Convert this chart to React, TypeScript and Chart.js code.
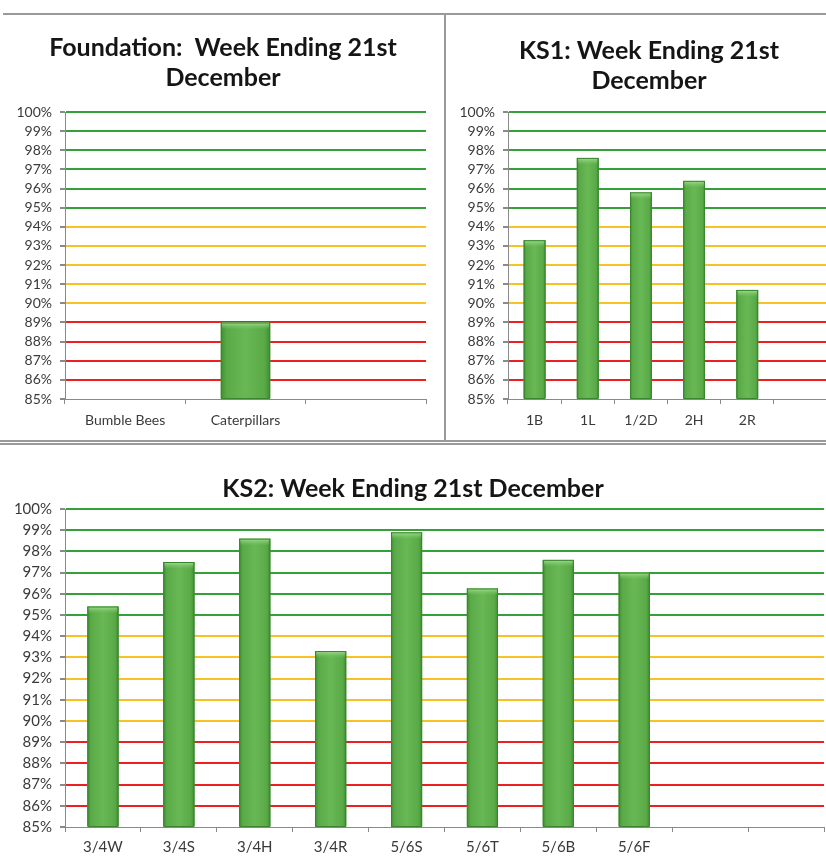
import React, { useEffect, useRef } from "react";
import { Chart, registerables } from "chart.js";

Chart.register(...registerables);

// ---------- data ----------
const foundationTitle = ["Foundation:  Week Ending 21st", "December"];
const foundationLabels = ["Bumble Bees", "Caterpillars", ""];
const foundationValues: (number | null)[] = [null, 89.0, null];

const ks1Title = ["KS1: Week Ending 21st", "December"];
const ks1Labels = ["1B", "1L", "1/2D", "2H", "2R", ""];
const ks1Values: (number | null)[] = [93.3, 97.6, 95.8, 96.4, 90.7, null];

const ks2Title = "KS2: Week Ending 21st December";
const ks2Labels = ["3/4W", "3/4S", "3/4H", "3/4R", "5/6S", "5/6T", "5/6B", "5/6F", "", ""];
const ks2Values: (number | null)[] = [95.4, 97.5, 98.6, 93.3, 98.9, 96.25, 97.6, 97.0, null, null];

const yMin = 85;
const yMax = 100;
const yStep = 1;
const greenFrom = 95;
const yellowFrom = 90;

// ---------- styles ----------
const GREEN = "#35a03a";
const YELLOW = "#f7c223";
const RED = "#ec2020";
const AXIS = "#8a8a8a";
const TEXT = "#3a3a3a";

function gridColor(v: number) {
  if (v <= yMin) return "rgba(0,0,0,0)";
  if (v >= greenFrom) return GREEN;
  if (v >= yellowFrom) return YELLOW;
  return RED;
}

const bevelPlugin = {
  id: "bevel",
  afterDatasetsDraw(chart: any) {
    const ctx = chart.ctx as CanvasRenderingContext2D;
    const area = chart.chartArea;
    const meta = chart.getDatasetMeta(0);
    ctx.save();
    ctx.beginPath();
    ctx.rect(area.left, area.top, area.right - area.left, area.bottom - area.top);
    ctx.clip();
    meta.data.forEach((el: any, i: number) => {
      const v = chart.data.datasets[0].data[i];
      if (v === null || v === undefined) return;
      const p = el.getProps(["x", "y", "base", "width"], true);
      const left = p.x - p.width / 2;
      const top = Math.min(p.y, p.base);
      const h = Math.abs(p.base - p.y);
      const g = ctx.createLinearGradient(left, 0, left + p.width, 0);
      g.addColorStop(0, "#3f8e34");
      g.addColorStop(0.12, "#5aab48");
      g.addColorStop(0.5, "#68b856");
      g.addColorStop(0.88, "#5aab48");
      g.addColorStop(1, "#3f8e34");
      ctx.fillStyle = g;
      ctx.fillRect(left, top, p.width, h);
      const tg = ctx.createLinearGradient(0, top, 0, top + 7);
      tg.addColorStop(0, "rgba(170,225,150,0.95)");
      tg.addColorStop(1, "rgba(120,200,100,0)");
      ctx.fillStyle = tg;
      ctx.fillRect(left + 1, top, p.width - 2, 7);
      ctx.strokeStyle = "#3b8530";
      ctx.lineWidth = 1;
      ctx.strokeRect(left + 0.5, top + 0.5, p.width - 1, h);
    });
    ctx.restore();
  },
};

type PanelProps = {
  title: string | string[];
  labels: string[];
  values: (number | null)[];
  left: number;
  top: number;
  width: number;
  height: number;
  yWidth: number;
  xHeight: number;
  rightGap: number;
  titleTop: number;
  titleBottom: number;
  tickSize: number;
  xPad: number;
};

function Panel(props: PanelProps) {
  const ref = useRef<HTMLCanvasElement | null>(null);
  useEffect(() => {
    if (!ref.current) return;
    const chart = new Chart(ref.current, {
      type: "bar",
      data: {
        labels: props.labels,
        datasets: [
          {
            data: props.values as any,
            base: yMin,
            backgroundColor: "#5aab48",
            borderWidth: 0,
            categoryPercentage: 1,
            barPercentage: 0.41,
          } as any,
        ],
      },
      options: {
        responsive: false,
        animation: false,
        devicePixelRatio: 1,
        layout: { padding: 0 },
        plugins: {
          legend: { display: false },
          tooltip: { enabled: false },
          title: {
            display: true,
            text: props.title,
            color: "#151515",
            font: { family: "Lato", size: 25, weight: "bold", lineHeight: 1.2 },
            padding: { top: props.titleTop, bottom: props.titleBottom },
          },
        },
        scales: {
          x: {
            type: "category",
            offset: true,
            grid: {
              offset: true,
              drawOnChartArea: false,
              drawTicks: true,
              tickLength: 5,
              tickColor: AXIS,
              color: AXIS,
            },
            border: { display: true, color: AXIS, width: 1 },
            ticks: {
              color: TEXT,
              font: { family: "Lato", size: props.tickSize },
              maxRotation: 0,
              autoSkip: false,
              padding: props.xPad,
            },
            afterFit: (s: any) => {
              s.height = props.xHeight;
            },
          } as any,
          y: {
            min: yMin,
            max: yMax,
            grid: {
              color: (c: any) => gridColor(c.tick ? c.tick.value : 0),
              lineWidth: 2,
              drawTicks: true,
              tickLength: 5,
              tickColor: AXIS,
            },
            border: { display: true, color: AXIS, width: 1 },
            ticks: {
              stepSize: yStep,
              autoSkip: false,
              color: TEXT,
              font: { family: "Lato", size: props.tickSize },
              padding: 8,
              callback: (v: any) => `${v}%`,
            },
            afterFit: (s: any) => {
              s.width = props.yWidth;
            },
          } as any,
          gap: {
            type: "linear",
            position: "right",
            display: true,
            grid: { display: false, drawOnChartArea: false, drawTicks: false },
            border: { display: false },
            ticks: { display: false },
            afterFit: (s: any) => {
              s.width = props.rightGap;
            },
          } as any,
        },
      },
      plugins: [bevelPlugin],
    });
    return () => chart.destroy();
  }, []);
  return (
    <canvas
      ref={ref}
      width={props.width}
      height={props.height}
      style={{
        position: "absolute",
        left: props.left,
        top: props.top,
        width: props.width,
        height: props.height,
      }}
    />
  );
}

export default function App() {
  const line = (s: React.CSSProperties) => (
    <div style={{ position: "absolute", background: "#9a9a9a", ...s }} />
  );
  return (
    <div
      style={{
        position: "absolute",
        left: 0,
        top: 0,
        width: 826,
        height: 865,
        overflow: "hidden",
        background: "#ffffff",
      }}
    >
      {line({ left: 3, top: 13, width: 823, height: 2 })}
      {line({ left: 444, top: 14, width: 2, height: 427 })}
      {line({ left: 0, top: 440, width: 826, height: 1.5 })}
      {line({ left: 0, top: 443, width: 826, height: 1.5 })}
      <Panel
        title={foundationTitle}
        labels={foundationLabels}
        values={foundationValues}
        left={0}
        top={15}
        width={446}
        height={425}
        yWidth={65}
        xHeight={41}
        rightGap={20}
        titleTop={18}
        titleBottom={19}
        tickSize={14}
        xPad={8}
      />
      <Panel
        title={ks1Title}
        labels={ks1Labels}
        values={ks1Values}
        left={446}
        top={15}
        width={406}
        height={425}
        yWidth={62}
        xHeight={41}
        rightGap={25}
        titleTop={21}
        titleBottom={16}
        tickSize={14}
        xPad={8}
      />
      <Panel
        title={ks2Title}
        labels={ks2Labels}
        values={ks2Values}
        left={0}
        top={446}
        width={826}
        height={419}
        yWidth={65}
        xHeight={38}
        rightGap={2}
        titleTop={28}
        titleBottom={5}
        tickSize={15}
        xPad={6}
      />
    </div>
  );
}
